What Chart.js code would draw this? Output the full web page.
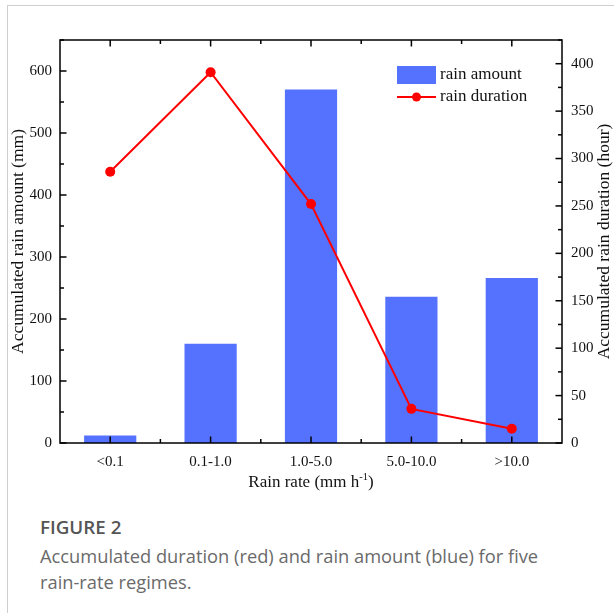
<!DOCTYPE html>
<html>
<head>
<meta charset="utf-8">
<script src="https://cdn.jsdelivr.net/npm/chart.js@4.4.1/dist/chart.umd.min.js"></script>
<style>
  html, body { margin: 0; padding: 0; background: #fff; }
  body { width: 614px; height: 613px; position: relative; overflow: hidden; }
  .frame { position: absolute; left: 7px; top: 5px; width: 620px; height: 620px;
           border-left: 1px solid #cfcfcf; border-top: 1px solid #cfcfcf; }
  #wrap { position: absolute; left: 0; top: 0; width: 614px; height: 500px; }
  .cap { position: absolute; left: 40px; font-family: 'Open Sans', sans-serif; white-space: nowrap; }
  .fig { top: 514px; font-size: 18.8px; font-weight: 600; color: #555; }
  .txt { top: 543px; font-size: 18.3px; line-height: 25.5px; color: #6a6a6a; }
</style>
</head>
<body>
<div class="frame"></div>
<div id="wrap"><canvas id="c" width="614" height="500"></canvas></div>
<div class="cap fig">FIGURE 2</div>
<div class="cap txt">Accumulated duration (red) and rain amount (blue) for five<br>rain-rate regimes.</div>
<script>
// Rain-rate regimes and their accumulated totals
const rateBins = ['<0.1', '0.1-1.0', '1.0-5.0', '5.0-10.0', '>10.0'];
const rainAmount = [12, 160, 570, 236, 266];      // mm, left axis
const rainDuration = [286, 391, 252, 36, 15];     // hours, right axis

const amountTicks = [0, 100, 200, 300, 400, 500, 600];
const durationTicks = [0, 50, 100, 150, 200, 250, 300, 350, 400];

const serif = "'Times New Roman', 'Liberation Serif', serif";
const barBlue = '#5572FF';
const lineRed = '#FF0000';

// Frame, inward tick marks, axis titles and legend
const decor = {
  id: 'decor',
  afterDraw(chart) {
    const ctx = chart.ctx;
    const a = chart.chartArea;
    const x = chart.scales.x, yL = chart.scales.y, yR = chart.scales.y1;
    ctx.save();
    ctx.strokeStyle = '#000';
    ctx.lineWidth = 1.5;
    ctx.strokeRect(a.left, a.top, a.right - a.left, a.bottom - a.top);

    const tick = (x1, y1, x2, y2) => { ctx.beginPath(); ctx.moveTo(x1, y1); ctx.lineTo(x2, y2); ctx.stroke(); };
    const MAJ = 6.5, MIN = 4;
    // category axis: major ticks at centres, minor at boundaries
    const n = rateBins.length;
    for (let i = 0; i < n; i++) {
      const px = x.getPixelForValue(i);
      tick(px, a.bottom, px, a.bottom - MAJ);
      tick(px, a.top, px, a.top + MAJ);
      if (i < n - 1) {
        const mx = (px + x.getPixelForValue(i + 1)) / 2;
        tick(mx, a.bottom, mx, a.bottom - MIN);
        tick(mx, a.top, mx, a.top + MIN);
      }
    }
    // left axis
    for (let v = 0; v <= yL.max; v += 50) {
      const py = yL.getPixelForValue(v);
      tick(a.left, py, a.left + (v % 100 === 0 ? MAJ : MIN), py);
    }
    // right axis
    for (let v = 0; v <= yR.max; v += 25) {
      const py = yR.getPixelForValue(v);
      tick(a.right, py, a.right - (v % 50 === 0 ? MAJ : MIN), py);
    }

    // axis titles
    ctx.fillStyle = '#111';
    ctx.font = '17.5px ' + serif;
    ctx.textAlign = 'center';
    ctx.textBaseline = 'middle';
    ctx.save();
    ctx.translate(18, (a.top + a.bottom) / 2);
    ctx.rotate(-Math.PI / 2);
    ctx.fillText('Accumulated rain amount (mm)', 0, 0);
    ctx.restore();
    ctx.save();
    ctx.translate(604, (a.top + a.bottom) / 2);
    ctx.rotate(-Math.PI / 2);
    ctx.fillText('Accumulated rain duration (hour)', 0, 0);
    ctx.restore();

    // x title with superscript
    const main = 'Rain rate (mm h', sup = '-1', tail = ')';
    ctx.font = '17px ' + serif;
    const w1 = ctx.measureText(main).width, w3 = ctx.measureText(tail).width;
    ctx.font = '10.5px ' + serif;
    const w2 = ctx.measureText(sup).width;
    const cx = (a.left + a.right) / 2;
    let sx = cx - (w1 + w2 + w3) / 2;
    const ty = 481;
    ctx.textAlign = 'left';
    ctx.textBaseline = 'alphabetic';
    ctx.font = '17px ' + serif;
    ctx.fillText(main, sx, ty + 5.5);
    ctx.font = '10.5px ' + serif;
    ctx.fillText(sup, sx + w1, ty - 1);
    ctx.font = '17px ' + serif;
    ctx.fillText(tail, sx + w1 + w2, ty + 5.5);

    // legend
    const lx = 397, lw = 39;
    ctx.fillStyle = barBlue;
    ctx.fillRect(lx, 66, lw, 18);
    ctx.strokeStyle = lineRed;
    ctx.lineWidth = 2;
    tick(lx, 97, lx + lw, 97);
    ctx.fillStyle = lineRed;
    ctx.beginPath(); ctx.arc(lx + lw / 2, 97, 4.5, 0, Math.PI * 2); ctx.fill();
    ctx.fillStyle = '#111';
    ctx.font = '17px ' + serif;
    ctx.textBaseline = 'middle';
    ctx.fillText('rain amount', 440, 75);
    ctx.fillText('rain duration', 440, 97);
    ctx.restore();
  }
};

new Chart(document.getElementById('c'), {
  data: {
    labels: rateBins,
    datasets: [
      {
        type: 'line', label: 'rain duration', data: rainDuration, yAxisID: 'y1',
        borderColor: lineRed, backgroundColor: lineRed, borderWidth: 2,
        pointRadius: 5, pointHoverRadius: 5, pointBackgroundColor: lineRed,
        pointBorderWidth: 0, tension: 0, order: 0
      },
      {
        type: 'bar', label: 'rain amount', data: rainAmount, yAxisID: 'y',
        backgroundColor: barBlue, borderWidth: 0,
        barPercentage: 0.52, categoryPercentage: 1, order: 1
      }
    ]
  },
  options: {
    responsive: false,
    animation: false,
    layout: { padding: { top: 40, left: 0, right: 0, bottom: 0 } },
    plugins: { legend: { display: false }, tooltip: { enabled: false } },
    scales: {
      x: {
        offset: true,
        grid: { display: false, drawTicks: false },
        border: { display: false },
        ticks: { color: '#111', font: { family: serif, size: 15 }, padding: 10, maxRotation: 0 },
        afterFit(s) { s.height = 57; }
      },
      y: {
        position: 'left', min: 0, max: 650,
        grid: { display: false, drawTicks: false },
        border: { display: false },
        afterBuildTicks(s) { s.ticks = amountTicks.map(v => ({ value: v })); },
        ticks: { color: '#111', font: { family: serif, size: 15 }, padding: 8 },
        afterFit(s) { s.width = 60; }
      },
      y1: {
        position: 'right', min: 0, max: 425,
        grid: { display: false, drawTicks: false },
        border: { display: false },
        afterBuildTicks(s) { s.ticks = durationTicks.map(v => ({ value: v })); },
        ticks: { color: '#111', font: { family: serif, size: 15 }, padding: 9 },
        afterFit(s) { s.width = 52; }
      }
    }
  },
  plugins: [decor]
});
</script>
</body>
</html>
